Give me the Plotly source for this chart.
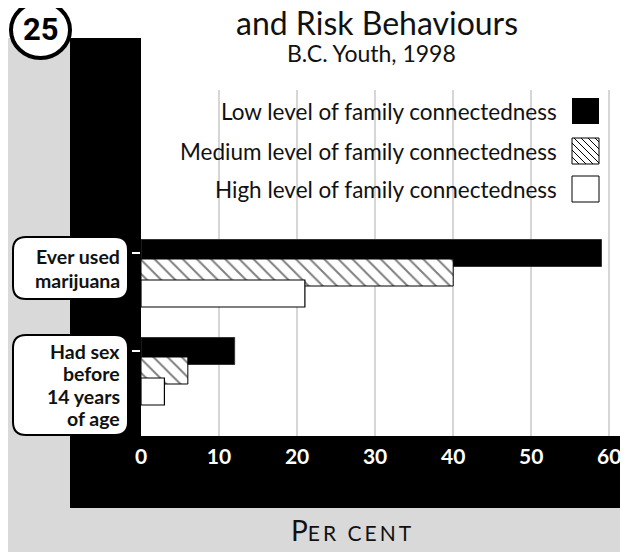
import plotly.graph_objects as go

# data
categories = ["Ever used<br>marijuana", "Had sex<br>before<br>14 years<br>of age"]
series_names = ["Low level of family connectedness",
                "Medium level of family connectedness",
                "High level of family connectedness"]
low_vals = [59, 12]
medium_vals = [40, 6]
high_vals = [21, 3]
x_ticks = [0, 10, 20, 30, 40, 50, 60]

# page has an 8px body margin, so the figure is 8px smaller than the window
OFF = 8
W, H = 628 - OFF, 552 - OFF
L, R, T, B = 141, 628, 90, 436  # plot area in window pixels


def px(x):
    return (x - L) / (R - L)


def py(y):
    return (B - y) / (B - T)


def rect(x0, y0, x1, y1, fill, line=None, lw=0, layer="below"):
    return dict(type="rect", xref="paper", yref="paper",
                x0=px(x0), x1=px(x1), y0=py(y1), y1=py(y0),
                fillcolor=fill, line=dict(color=line or fill, width=lw), layer=layer)


def rounded(x0, y0, x1, y1, r):
    pts = (f"M {px(x0 + r)},{py(y0)} L {px(x1 - r)},{py(y0)} "
           f"Q {px(x1)},{py(y0)} {px(x1)},{py(y0 + r)} L {px(x1)},{py(y1 - r)} "
           f"Q {px(x1)},{py(y1)} {px(x1 - r)},{py(y1)} L {px(x0 + r)},{py(y1)} "
           f"Q {px(x0)},{py(y1)} {px(x0)},{py(y1 - r)} L {px(x0)},{py(y0 + r)} "
           f"Q {px(x0)},{py(y0)} {px(x0 + r)},{py(y0)} Z")
    return dict(type="path", xref="paper", yref="paper", path=pts,
                fillcolor="white", line=dict(color="black", width=2), layer="above")


def text(t, x, y, size, xanchor="center", weight="normal", family="Lato", color="#111"):
    return dict(text=t, xref="paper", yref="paper", x=px(x), y=py(y),
                xanchor=xanchor, yanchor="middle", showarrow=False,
                font=dict(family=family, size=size, color=color, weight=weight))


bw = 27 / 98
fig = go.Figure()
styles = [
    dict(color="black", line=dict(color="#333", width=1)),
    dict(color="white", line=dict(color="black", width=1),
         pattern=dict(shape="\\", fgcolor="black", bgcolor="white", size=10, solidity=0.2)),
    dict(color="white", line=dict(color="black", width=1.2)),
]
offsets = [-bw / 2, 6 / 98, 27 / 98]
for name, vals, st, off in zip(series_names, [low_vals, medium_vals, high_vals], styles, offsets):
    fig.add_trace(go.Bar(y=categories, x=vals, orientation="h", name=name,
                         marker=st, width=bw, offset=off, showlegend=False))

shapes = [
    rect(8, 38, 640, 560, "#d9d9d9"),
    rect(141, 0, 640, 436, "white"),
    rect(70, 38, 141, 508, "black"),
    rect(70, 436, 640, 508, "black"),
    rounded(13, 237, 128, 299, 13),
    rounded(13, 335, 128, 435, 13),
    dict(type="circle", xref="paper", yref="paper", x0=px(11), x1=px(70), y0=py(58), y1=py(2),
         fillcolor="white", line=dict(color="black", width=4), layer="above"),
]

# legend swatches
sw_x0, sw_x1 = 572, 599
rows_y = [111, 151, 189]
shapes.append(rect(sw_x0, rows_y[0] - 13, sw_x1, rows_y[0] + 13, "black", layer="above"))
shapes.append(rect(sw_x0, rows_y[1] - 13, sw_x1, rows_y[1] + 13, "white", "black", 1, layer="above"))
hatch = ""
y0, y1 = rows_y[1] - 13, rows_y[1] + 13
for k in range(-26, 27, 7):
    xa, ya = sw_x0 + k, y0
    xb, yb = sw_x0 + k + 26, y1
    if xa < sw_x0:
        ya += sw_x0 - xa
        xa = sw_x0
    if xb > sw_x1:
        yb -= xb - sw_x1
        xb = sw_x1
    if xa < xb:
        hatch += f"M {px(xa)},{py(ya)} L {px(xb)},{py(yb)} "
shapes.append(dict(type="path", xref="paper", yref="paper", path=hatch,
                   line=dict(color="black", width=1), layer="above"))
shapes.append(rect(sw_x0, rows_y[2] - 13, sw_x1, rows_y[2] + 13, "white", "black", 1, layer="above"))

ann = []
for name, yy in zip(series_names, rows_y):
    ann.append(text(name, 559, yy, 22.5, xanchor="right"))

# category labels, one annotation per line for tight leading
for cat, yc, pitch in zip(categories, [268, 385], [24, 22.5]):
    lines = cat.split("<br>")
    top = yc - pitch * (len(lines) - 1) / 2
    for i, ln in enumerate(lines):
        ann.append(text(ln, 122, top + i * pitch, 19.5, xanchor="right", weight="bold"))

ann += [
    text("25", 41, 30, 31, weight="bold", family="Roboto", color="black"),
    text("and Risk Behaviours", 377, 22, 32),
    text("B.C. Youth, 1998", 371, 53, 23),
    text("P<span style='font-size:21px;letter-spacing:3px'>ER CENT</span>", 352, 530, 28),
]

fig.update_layout(
    width=W, height=H, barmode="overlay",
    margin=dict(l=L - OFF, r=W - (R - OFF), t=T - OFF, b=H - (B - OFF), pad=0),
    paper_bgcolor="white", plot_bgcolor="rgba(0,0,0,0)",
    shapes=shapes, annotations=ann,
)
fig.update_xaxes(range=[0, 62.4], tickvals=x_ticks, showgrid=True, gridcolor="#d6d6d6",
                 gridwidth=2, zeroline=False, showline=False,
                 ticks="outside", ticklen=2, tickcolor="black",
                 tickfont=dict(family="Lato", size=21, color="white", weight="bold"))
fig.update_yaxes(range=[1 + 85 / 98, -163 / 98], showgrid=False, zeroline=False,
                 showline=False, ticks="outside", ticklen=8, tickwidth=2,
                 tickcolor="white", showticklabels=False)

fig.write_html("out.html")
